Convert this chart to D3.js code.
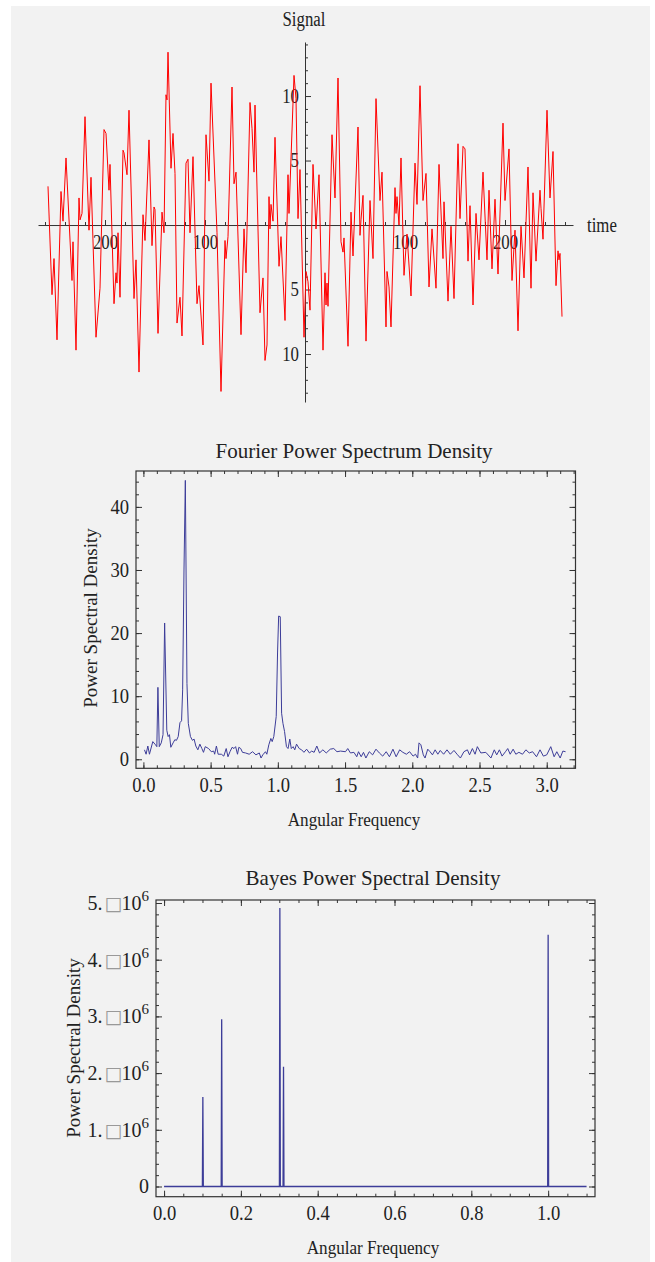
<!DOCTYPE html>
<html lang="en">
<head>
<meta charset="UTF-8">
<title>Signal and power spectra</title>
<script src="https://d3js.org/d3.v7.min.js"></script>
<style>
    body { margin: 0; background: #fff; }
    text { font-family: "Liberation Serif", "Times New Roman", serif; fill: #222; }
    .domain { stroke: #333; }
    .tick line { stroke: #333; }
</style>
</head>
<body>
<div id="chart"></div>
<script>
// ---- data ----
// top panel: the red signal (time, value) at its turning points
const signalTime = [-257,-253,-251,-248,-244,-242,-239,-233,-232,-229,-226,-225,-223,-220,-216,-214,-209,-205,-201,-199,-196,-195,-191,-189,-188,-187,-185,-182,-181,-178,-176,-171,-169,-166,-162,-160,-156,-153,-151,-150,-147,-143,-141,-139,-138,-137,-134,-132,-130,
    -128,-125,-123,-119,-117,-115,-112,-108,-106,-102,-99,-96,-94,-88,-84,-80,-79,-77,-73,-71,-69,-64,-61,-59,-55,-53,-51,-50,-45,-42,-40,-38,-36,-35,-34,-32,-30,-26,-24,-20,-17,-16,-11,-9,-7,-5,-1,
    1,3,5,8,11,14,18,20,21,22,23,27,30,33,36,38,39,43,46,48,53,55,56,58,61,65,68,71,75,77,81,82,84,86,90,91,92,94,96,99,102,106,110,112,115,118,121,124,127,131,134,
    138,139,143,146,149,153,155,158,160,163,165,168,171,174,178,182,184,187,190,193,198,200,204,207,210,213,216,219,223,226,228,231,235,236,238,242,245,248,251,253,254,255,257];
const signalValue = [3.0,-5.4,-2.6,-8.9,2.6,0.3,5.2,-4.3,-1.3,-9.7,2.1,0.4,0.9,8.4,-0.4,3.7,-8.7,-4.9,7.4,7.1,2.7,4.7,-6.1,-3.7,-4.5,-0.6,-5.6,5.8,5.6,3.9,8.9,-5.7,-2.7,-11.4,0.8,-1.2,6.6,-1.6,1.4,1.2,-8.4,1.0,-0.6,10.1,9.7,13.4,4.4,7.1,4.0,
    -7.6,-5.6,-8.6,4.8,5.1,-0.6,5.3,-6.1,-4.7,-9.3,7.0,3.4,11.0,-0.6,-12.9,-1.2,-2.6,-0.9,10.7,3.2,4.1,-8.5,-0.3,-3.7,9.5,7.5,4.1,9.3,-6.8,-4.1,-10.5,-9.3,2.2,-0.3,1.6,0.3,6.8,-3.2,-0.9,-7.4,3.9,0.9,11.6,9.8,0.5,4.3,-8.7,
    -3.6,-4.4,-6.6,4.7,-0.3,3.9,-9.7,-3.7,-6.2,-4.5,-6.3,7.0,2.1,11.4,-1.3,-2.1,-1.0,-9.4,1.0,-2.4,7.6,-0.8,0.4,2.3,-9.0,1.9,-2.6,9.8,1.9,4.1,-7.9,-3.6,-4.8,-7.9,2.9,0.9,2.2,0.0,5.2,-3.9,-0.7,-5.5,4.8,1.6,10.8,1.9,4.0,-4.8,-0.3,-4.9,4.7,
    -2.6,1.8,-5.9,-0.1,-5.7,6.3,0.5,6.1,5.9,-2.8,1.5,-6.2,0.9,-2.7,4.1,-2.7,2.7,-3.4,2.0,-3.8,7.9,1.9,5.9,-4.3,-0.4,-8.2,-0.1,-4.1,4.5,-4.9,2.5,-2.8,2.7,1.3,-1.1,8.9,2.1,5.7,-4.7,-2.0,-2.7,-2.2,-7.1];
const timeMajor = [-200, -100, 100, 200];
const signalMajor = [-10, -5, 5, 10];

// middle panel: Fourier power spectrum density
const fourierFreq = [0.008,0.02,0.033,0.045,0.07,0.09,0.1,0.108,0.118,0.133,0.146,0.158,0.174,0.184,0.194,0.204,0.221,0.234,0.246,0.259,0.272,0.284,0.292,0.302,0.312,0.324,0.334,0.35,0.365,0.377,0.39,0.405,0.42,0.435,0.447,0.46,0.485,0.505,0.523,0.53,0.543,0.556,0.58,0.598,0.616,0.629,0.644,0.66,0.674,0.686,0.7,0.71,0.724,0.737,0.76,0.787,0.812,0.837,0.862,0.875,0.888,0.908,0.918,0.933,0.948,0.958,0.97,0.988,0.998,1.006,1.018,1.028,1.038,1.05,1.064,1.076,1.089,1.1,1.114,1.126,1.139,1.159,1.177,1.194,1.214,1.235,1.252,1.27,1.29,1.31,1.335,1.36,1.39,1.416,1.44,1.466,1.503,1.52,1.54,1.566,1.587,1.6,1.62,1.637,1.655,1.68,1.705,1.73,1.755,1.78,1.806,1.83,1.856,1.88,1.906,1.93,1.956,1.98,2.006,2.024,2.04,2.05,2.064,2.082,2.095,2.115,2.132,2.15,2.17,2.19,2.208,2.233,2.258,2.283,2.31,2.333,2.358,2.384,2.41,2.426,2.447,2.467,2.484,2.51,2.547,2.585,2.61,2.628,2.648,2.668,2.693,2.71,2.728,2.75,2.77,2.793,2.82,2.845,2.87,2.895,2.924,2.95,2.975,3.0,3.03,3.055,3.075,3.1,3.12,3.14];
const fourierPower = [1.5,0.8,2.1,0.8,2.8,2.3,2.0,11.4,2.0,2.6,3.9,21.6,4.6,3.6,3.9,1.9,2.6,3.1,3.0,3.6,5.8,6.1,11.0,30.0,44.2,12.0,5.7,3.6,3.0,3.2,2.1,1.5,2.4,1.7,1.1,2.0,1.7,1.2,1.3,0.8,2.1,0.8,0.8,0.5,1.7,0.4,1.2,1.9,1.7,2.0,0.8,1.9,1.7,1.1,1.0,0.8,1.2,0.7,1.0,0.2,0.7,1.2,0.8,2.3,3.3,2.8,3.6,6.8,17.0,22.7,22.6,7.3,5.7,4.4,2.0,1.7,3.2,1.7,2.0,1.5,2.4,1.7,1.5,1.1,1.6,1.0,1.3,1.1,2.1,1.0,1.5,1.0,1.6,1.7,1.2,1.3,1.2,1.7,1.0,1.1,0.4,1.2,0.4,1.1,0.2,1.2,0.7,1.6,1.0,0.5,1.2,0.4,1.6,0.4,1.5,1.1,0.8,1.2,0.5,0.8,0.2,2.6,2.3,0.7,0.2,1.6,1.2,0.7,1.5,0.8,1.4,0.8,1.5,0.8,1.4,0.8,0.2,1.2,1.5,0.7,1.7,0.8,2.0,1.0,1.1,0.2,1.5,0.7,1.5,0.5,1.2,1.7,0.8,1.6,0.8,1.1,0.8,1.5,1.0,1.2,0.4,1.5,0.5,0.7,2.0,0.4,1.2,0.2,1.3,1.2];
const fourierXTicks = [0, 0.5, 1, 1.5, 2, 2.5, 3];
const fourierYTicks = [0, 10, 20, 30, 40];

// bottom panel: Bayes power spectral density (isolated spikes on a zero floor)
const bayesRange = [0, 1.1];
const bayesFreq = [0.101, 0.15, 0.3015, 0.311, 1.0];
const bayesPower = [1.58e6, 2.95e6, 4.91e6, 2.11e6, 4.44e6];
const bayesXTicks = [0, 0.2, 0.4, 0.6, 0.8, 1.0];
const bayesYTicks = [0, 1e6, 2e6, 3e6, 4e6, 5e6];

// ---- drawing ----
const W = 655, H = 1262;
const svg = d3.select("#chart").append("svg").attr("width", W).attr("height", H);
svg.append("rect").attr("x", 11).attr("y", 6).attr("width", 639).attr("height", H - 6).attr("fill", "#f2f2f2");

function minorTicks(lo, hi, step) {
    const out = [];
    for (let v = Math.ceil(lo / step - 1e-9) * step; v <= hi + 1e-9; v += step) out.push(+v.toFixed(6));
    return out;
}
// Mathematica's serif text comes out tall and narrow
function squeeze(sel, k) {
    sel.each(function () {
        const len = this.getComputedTextLength();
        if (len > 0) d3.select(this).attr("textLength", len * k).attr("lengthAdjust", "spacingAndGlyphs");
    });
}

// ===== top: signal on crossing axes =====
const xs = d3.scaleLinear().domain([-267, 268]).range([38, 573]);
const ys = d3.scaleLinear().domain([-13.72, 14.19]).range([402, 42]);
const sig = svg.append("g");

sig.append("g").attr("transform", `translate(0,${ys(0)})`)
    .call(d3.axisBottom(xs).tickValues(minorTicks(-260, 260, 20).filter(d => d !== 0)).tickSize(-3).tickFormat(""))
    .call(g => g.select(".domain").remove());
sig.append("g").attr("transform", `translate(0,${ys(0)})`)
    .call(d3.axisBottom(xs).tickValues(timeMajor).tickSize(-5).tickSizeOuter(0).tickPadding(6).tickFormat(d => Math.abs(d)))
    .call(g => g.selectAll("text").attr("font-size", 20).attr("dy", "0.9em"));
sig.append("g").attr("transform", `translate(${xs(0)},0)`)
    .call(d3.axisLeft(ys).tickValues(minorTicks(-13, 14, 1).filter(d => d % 5 !== 0)).tickSize(-3).tickFormat(""))
    .call(g => g.select(".domain").remove());
sig.append("g").attr("transform", `translate(${xs(0)},0)`)
    .call(d3.axisLeft(ys).tickValues(signalMajor).tickSize(-6).tickSizeOuter(0).tickPadding(6).tickFormat(d => Math.abs(d)))
    .call(g => g.selectAll("text").attr("font-size", 20));

sig.append("text").attr("x", xs(0) - 1).attr("y", 26).attr("text-anchor", "middle").attr("font-size", 20).text("Signal");
sig.append("text").attr("x", 587).attr("y", ys(0) + 7).attr("font-size", 20).text("time");
squeeze(sig.selectAll("text"), 0.84);

sig.append("path")
    .datum(signalTime.map((t, i) => [t, signalValue[i]]))
    .attr("fill", "none").attr("stroke", "#ff0000").attr("stroke-width", 1)
    .attr("d", d3.line().x(d => xs(d[0])).y(d => ys(d[1])));

// ===== framed panels =====
function framePanel(g, x, y, xMajor, xMinor, yMajor, yMinor, xFmt, yFmt, xPad, yPad) {
    const [x0, x1] = x.range(), [y0, y1] = y.range();
    const sides = [
        [d3.axisBottom(x), `translate(0,${y0})`, xMajor, xMinor, xFmt, "xlab", xPad],
        [d3.axisTop(x), `translate(0,${y1})`, xMajor, xMinor, null, "", 0],
        [d3.axisLeft(y), `translate(${x0},0)`, yMajor, yMinor, yFmt, "ylab", yPad],
        [d3.axisRight(y), `translate(${x1},0)`, yMajor, yMinor, null, "", 0]
    ];
    sides.forEach(([ax, tr, major, minor, fmt, cls, pad]) => {
        g.append("g").attr("transform", tr)
            .call(ax.tickValues(minor).tickSize(-3).tickFormat(""))
            .call(s => s.select(".domain").remove());
        g.append("g").attr("class", cls).attr("transform", tr)
            .call(ax.tickValues(major).tickSize(-6).tickSizeOuter(0).tickPadding(pad).tickFormat(fmt || ""))
            .call(s => s.select(".domain").remove())
            .call(s => s.selectAll("text").attr("font-size", 20));
    });
    g.append("rect").attr("x", x0).attr("y", y1).attr("width", x1 - x0).attr("height", y0 - y1)
        .attr("fill", "none").attr("stroke", "#333").attr("stroke-width", 1.2);
}

// middle: Fourier
const fx = d3.scaleLinear().domain([-0.055, 3.214]).range([136, 575.5]);
const fy = d3.scaleLinear().domain([-1.43, 45.69]).range([768.3, 471]);
const mid = svg.append("g");
framePanel(mid, fx, fy, fourierXTicks, minorTicks(0, 3.2, 0.1), fourierYTicks, minorTicks(0, 44, 2),
    d3.format(".1f"), d3.format("d"), 10, 7);
squeeze(mid.selectAll(".tick text"), 0.93);
mid.append("path")
    .datum(fourierFreq.map((f, i) => [f, fourierPower[i]]))
    .attr("fill", "none").attr("stroke", "#3d3d99").attr("stroke-width", 1)
    .attr("d", d3.line().x(d => fx(d[0])).y(d => fy(d[1])));
mid.append("text").attr("x", 354).attr("y", 458).attr("text-anchor", "middle").attr("font-size", 21)
    .text("Fourier Power Spectrum Density");
mid.append("text").attr("class", "lab").attr("x", 354).attr("y", 826).attr("text-anchor", "middle").attr("font-size", 19)
    .text("Angular Frequency");
mid.append("text").attr("transform", "translate(97,618) rotate(-90)").attr("text-anchor", "middle").attr("font-size", 19)
    .text("Power Spectral Density");
squeeze(mid.selectAll(".lab"), 0.9);

// bottom: Bayes
const bx = d3.scaleLinear().domain([-0.021, 1.122]).range([156, 595]);
const by = d3.scaleLinear().domain([-0.18e6, 5.053e6]).range([1196.7, 900]);
const bot = svg.append("g");
framePanel(bot, bx, by, bayesXTicks, minorTicks(0, 1.1, 0.05), bayesYTicks, minorTicks(0, 5e6, 2e5),
    d3.format(".1f"), d => d, 9, 7);
squeeze(bot.selectAll(".xlab .tick text"), 0.93);
// Mathematica's "n. □10^6" tick labels
bot.select(".ylab").selectAll(".tick text").each(function (d) {
    const t = d3.select(this).text("");
    if (d === 0) { t.text("0"); return; }
    t.append("tspan").text((d / 1e6) + ".");
    t.append("tspan").attr("font-family", "DejaVu Sans").attr("font-size", 19).attr("fill", "#999").attr("dx", 2).text("\u25A1");
    t.append("tspan").attr("dx", -1).text("10");
    t.append("tspan").attr("font-size", 15).attr("dy", "-0.6em").text("6");
});
const bayesLine = [[bayesRange[0], 0]];
bayesFreq.forEach((f, i) => { bayesLine.push([f - 0.0012, 0], [f, bayesPower[i]], [f + 0.0012, 0]); });
bayesLine.push([bayesRange[1], 0]);
bot.append("path")
    .datum(bayesLine)
    .attr("fill", "none").attr("stroke", "#3d3d99").attr("stroke-width", 1.3)
    .attr("d", d3.line().x(d => bx(d[0])).y(d => by(d[1])));
bot.append("text").attr("x", 373).attr("y", 885).attr("text-anchor", "middle").attr("font-size", 21)
    .text("Bayes Power Spectral Density");
bot.append("text").attr("class", "lab").attr("x", 373).attr("y", 1254).attr("text-anchor", "middle").attr("font-size", 19)
    .text("Angular Frequency");
bot.append("text").attr("transform", "translate(80,1048) rotate(-90)").attr("text-anchor", "middle").attr("font-size", 19)
    .text("Power Spectral Density");
squeeze(bot.selectAll(".lab"), 0.9);
</script>
</body>
</html>
